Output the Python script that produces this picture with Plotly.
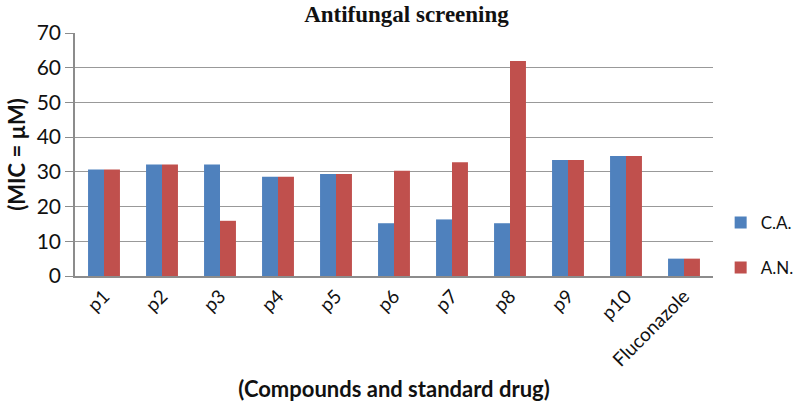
import plotly.graph_objects as go

categories = ["p1", "p2", "p3", "p4", "p5", "p6", "p7", "p8", "p9", "p10", "Fluconazole"]
ca_values = [30.7, 32.1, 32.1, 28.6, 29.4, 15.2, 16.3, 15.2, 33.4, 34.6, 5.0]
an_values = [30.7, 32.1, 15.9, 28.6, 29.4, 30.3, 32.8, 61.9, 33.4, 34.6, 5.0]
y_ticks = [0, 10, 20, 30, 40, 50, 60, 70]

BLUE = "#4F81BD"
RED = "#C0504D"
FONT = "Lato, 'Open Sans', sans-serif"
TXT = "#111"

fig = go.Figure()
fig.add_trace(go.Bar(name="C.A.", x=categories, y=ca_values, marker_color=BLUE,
                     marker_line_width=0, legend="legend", showlegend=True))
fig.add_trace(go.Bar(name="A.N.", x=categories, y=an_values, marker_color=RED,
                     marker_line_width=0, legend="legend2", showlegend=True))

legend_style = dict(xref="paper", yref="paper", xanchor="left", yanchor="middle",
                    font=dict(family=FONT, size=17, color=TXT),
                    bgcolor="rgba(0,0,0,0)", itemwidth=30)

fig.update_layout(
    width=797, height=402,
    margin=dict(l=75, r=84, t=33, b=126, autoexpand=False),
    paper_bgcolor="white", plot_bgcolor="white",
    showlegend=True,
    barmode="group", bargap=0.45, bargroupgap=0,
    title=dict(text="<b>Antifungal screening</b>", x=0.51, xanchor="center",
               y=0.985, yanchor="top", yref="container",
               font=dict(family="'Liberation Serif', 'Times New Roman', serif", size=23, color=TXT)),
    legend=dict(x=1.012, y=(276 - 223) / 243, **legend_style),
    legend2=dict(x=1.012, y=(276 - 268) / 243, **legend_style),
    xaxis=dict(
        automargin=False,
        tickangle=-45,
        tickfont=dict(family=FONT, size=19, color=TXT),
        showline=True, linecolor="#8C8C8C", linewidth=1.5,
        ticks="", showgrid=False,
        title=dict(text="<b>(Compounds and standard drug)</b>", standoff=19,
                   font=dict(family=FONT, size=22, color=TXT)),
    ),
    yaxis=dict(
        automargin=False,
        range=[0, 70], tickvals=y_ticks,
        tickfont=dict(family=FONT, size=21, color=TXT),
        showgrid=True, gridcolor="#999999", gridwidth=1,
        showline=True, linecolor="#8C8C8C", linewidth=1.5,
        ticks="outside", ticklen=8, tickcolor="#8C8C8C",
        ticklabelstandoff=0,
        zeroline=False,
        title=dict(text="<b>(MIC = µM)</b>", standoff=5,
                   font=dict(family=FONT, size=22, color=TXT)),
    ),
)

fig.write_html("out.html", config={"displayModeBar": False},
               post_script="document.body.style.margin='0';")
